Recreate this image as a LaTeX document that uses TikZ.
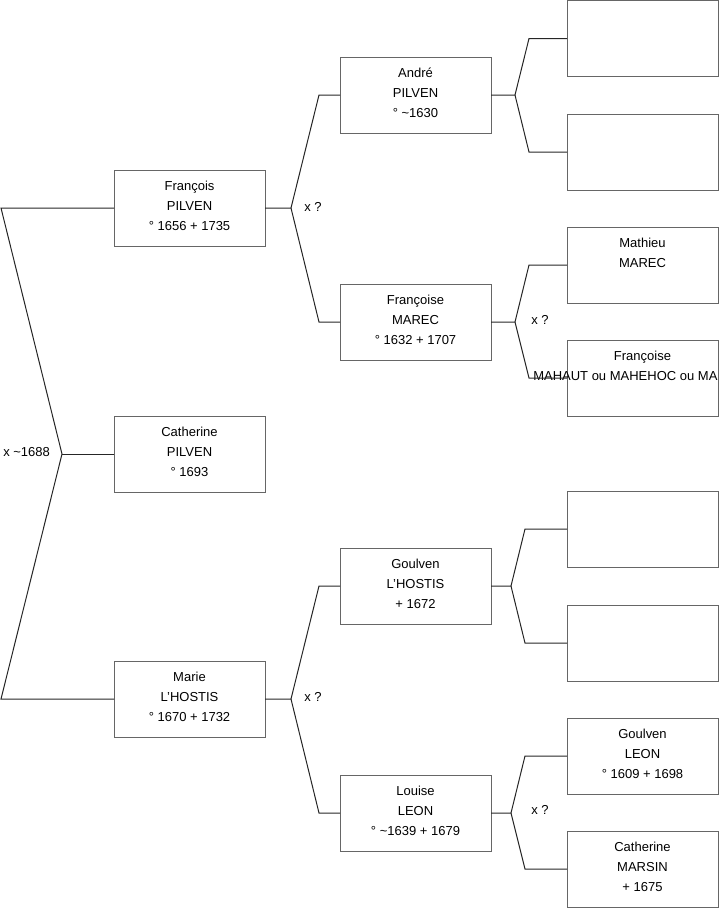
\documentclass[tikz,border=0pt]{standalone}
\usepackage{fontspec}
\setmainfont{Liberation Sans}
\tikzset{
  pbox/.style={draw=black!60, line width=0.75pt, rectangle, minimum width=113.25pt, minimum height=57pt, inner sep=0pt, outer sep=0pt},
  ptext/.style={font=\fontsize{9.75}{12}\selectfont, inner sep=0pt, anchor=base},
  conn/.style={draw=black!85, line width=0.75pt},
  mlabel/.style={font=\fontsize{9.75}{12}\selectfont, inner sep=0pt, anchor=base west}
}
\newcommand\pers[6]{%
  \node[pbox] (#1) at (#2,#3) {};
  \path (#1.north) ++(0,20.5) node[ptext] {#4} ++(0,20) node[ptext] {#5} ++(0,20) node[ptext] {#6};
}
\begin{document}
\begin{tikzpicture}[x=0.75pt, y=-0.75pt]
\useasboundingbox (0,0) rectangle (719,908);
\clip (0,0) rectangle (719,908);
% column 1
\pers{fp}{189.5}{208}{François}{PILVEN}{° 1656 + 1735}
\pers{cp}{189.5}{454}{Catherine}{PILVEN}{° 1693}
\pers{mh}{189.5}{699}{Marie}{L'HOSTIS}{° 1670 + 1732}
% column 2
\pers{ap}{415.5}{95}{André}{PILVEN}{° \textasciitilde1630}
\pers{fm}{415.5}{322}{Françoise}{MAREC}{° 1632 + 1707}
\pers{gh}{415.5}{586}{Goulven}{L'HOSTIS}{+ 1672}
\pers{ll}{415.5}{813}{Louise}{LEON}{° \textasciitilde1639 + 1679}
% column 3
\node[pbox] (r1) at (642.5,38.5) {};
\node[pbox] (r2) at (642.5,152) {};
\pers{mm}{642.5}{265}{Mathieu}{MAREC}{}
\node[pbox] (fmh) at (642.5,378) {};
\path (fmh.north) ++(0,20.5) node[ptext] {Françoise};
\node[mlabel] at (533,380.5) {MAHAUT ou MAHEHOC ou MA};
\node[pbox] (r5) at (642.5,529) {};
\node[pbox] (r6) at (642.5,643) {};
\pers{gl}{642.5}{756}{Goulven}{LEON}{° 1609 + 1698}
\pers{cm}{642.5}{869}{Catherine}{MARSIN}{+ 1675}
% left bracket
\coordinate (a0) at (1,208);
\coordinate (a1) at (62,454);
\coordinate (a2) at (1,699);
\draw[conn] (fp.west) -- (a0) -- (a1) -- (a2) -- (mh.west);
\draw[conn] (a1) -- (cp.west);
\node[mlabel] at (3,456.5) {x \textasciitilde1688};
% forks column 1 -> 2
\coordinate (bx) at (291,0);
\coordinate (be) at (319,0);
\coordinate (b1) at (fp.east -| bx);
\draw[conn] (fp.east) -- (b1) -- (ap.west -| be) -- (ap.west);
\draw[conn] (b1) -- (fm.west -| be) -- (fm.west);
\node[mlabel] at (304,211.5) {x ?};
\coordinate (b2) at (mh.east -| bx);
\draw[conn] (mh.east) -- (b2) -- (gh.west -| be) -- (gh.west);
\draw[conn] (b2) -- (ll.west -| be) -- (ll.west);
\node[mlabel] at (304,701.5) {x ?};
% forks column 2 -> 3
\coordinate (cx1) at (515,0);
\coordinate (ce1) at (529,0);
\coordinate (c1) at (ap.east -| cx1);
\draw[conn] (ap.east) -- (c1) -- (r1.west -| ce1) -- (r1.west);
\draw[conn] (c1) -- (r2.west -| ce1) -- (r2.west);
\coordinate (c2) at (fm.east -| cx1);
\draw[conn] (fm.east) -- (c2) -- (mm.west -| ce1) -- (mm.west);
\draw[conn] (c2) -- (fmh.west -| ce1) -- (fmh.west);
\node[mlabel] at (531,324.5) {x ?};
\coordinate (cx2) at (511,0);
\coordinate (ce2) at (525,0);
\coordinate (c3) at (gh.east -| cx2);
\draw[conn] (gh.east) -- (c3) -- (r5.west -| ce2) -- (r5.west);
\draw[conn] (c3) -- (r6.west -| ce2) -- (r6.west);
\coordinate (c4) at (ll.east -| cx2);
\draw[conn] (ll.east) -- (c4) -- (gl.west -| ce2) -- (gl.west);
\draw[conn] (c4) -- (cm.west -| ce2) -- (cm.west);
\node[mlabel] at (531,814.5) {x ?};
\end{tikzpicture}
\end{document}
